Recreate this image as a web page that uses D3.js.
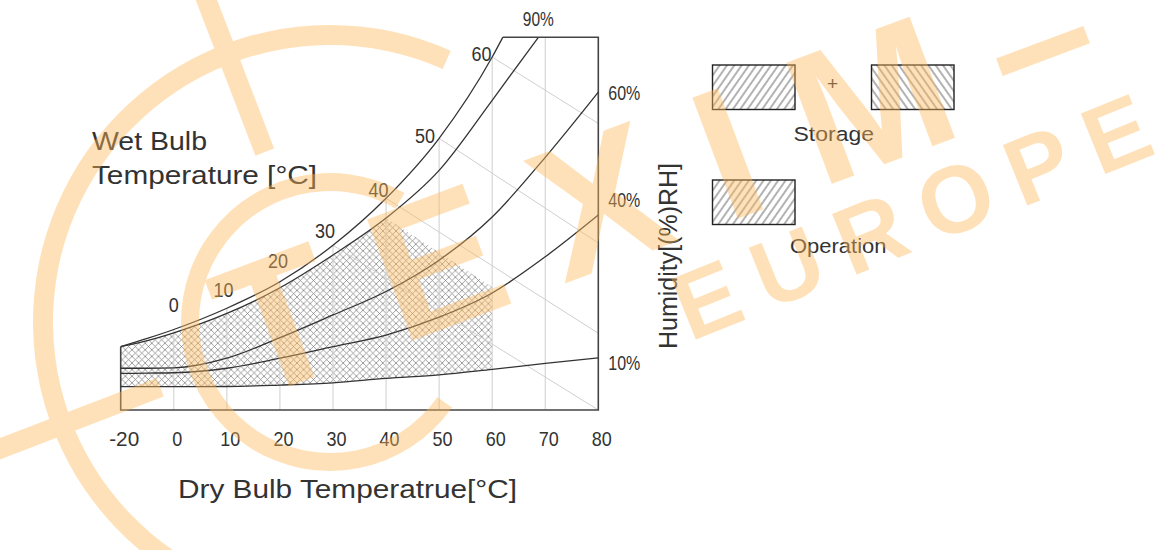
<!DOCTYPE html>
<html>
<head>
<meta charset="utf-8">
<script src="https://cdn.jsdelivr.net/npm/d3@7/dist/d3.min.js"></script>
<style>
  body { margin: 0; background: #fff; }
  svg { display: block; }
  text { font-family: "Liberation Sans", Arial, sans-serif; fill: #333; }
  .wm, .wm text { fill: rgb(255,186,90); }
</style>
</head>
<body>
<svg id="chart" width="1155" height="550"></svg>
<script>
// dry bulb ticks (-20..0 takes a single step on this chart)
const tempTicks = [-20, 0, 10, 20, 30, 40, 50, 60, 70, 80];
const gridTemps = [0, 10, 20, 30, 40, 50, 60, 70];

// curves as [dry bulb temp, humidity height 0..100]
const satCurve = [[-20, 17.0], [-10, 19.2], [0, 21.6], [10, 27.3], [20, 34.4], [30, 44.2], [40, 56.8], [50, 72.9], [60, 94.7], [62, 100]];
const rh90 = [[-20, 17.0], [-10, 18.6], [0, 20.7], [10, 25.9], [20, 32.8], [30, 41.6], [40, 51.5], [50, 64.3], [60, 83.1], [68.7, 100]];
const rh60 = [[-20, 11.2], [-10, 11.2], [0, 11.3], [10, 13.9], [20, 19.4], [30, 25.5], [40, 31.8], [50, 40.2], [60, 51.8], [70, 67.8], [80, 85.3]];
const rh40 = [[-20, 9.8], [-10, 9.9], [0, 10.0], [10, 11.2], [20, 13.9], [30, 17.0], [40, 20.1], [50, 24.9], [60, 31.4], [70, 41.1], [80, 52.3]];
const rh10 = [[-20, 6.25], [-10, 6.25], [0, 6.25], [10, 6.3], [20, 6.7], [30, 7.3], [40, 8.5], [50, 9.4], [60, 10.9], [70, 12.5], [80, 14.0]];

// wet bulb labels sit on the saturation curve
const wetBulbTemps = [0, 10, 20, 30, 40, 50, 60];
// gray wet bulb lines: start on saturation, end at 80 C
const wbLineTemps = [30, 40, 50, 60];
const wbLineEnd80 = [0, 20.6, 44.8, 76.9];

// operation area: 10..90 %RH, up to 60 C, cut by a wet bulb limit
const opMaxTemp = 60;
const opWetBulbLimit = [[40, 51.5], [60, 33.0]];

const rhRightLabels = ["60%", "40%", "10%"];

// layout nudges for labels (px)
const wbLabelNudge = [[0, -17.5], [-3.4, -11.3], [-1.9, -13.8], [-8, -7.3], [-7.6, -1.3], [-14.2, 4.7], [-10.7, 4]];
const rhLabelNudge = [8, -8, 12];

const svg = d3.select("#chart");

const x = d3.scaleLinear().domain([-20, 0, 80]).range([120.7, 173.8, 598.3]);
const y = d3.scaleLinear().domain([0, 100]).range([410, 37.3]);

const line = d3.line().x(d => x(d[0])).y(d => y(d[1])).curve(d3.curveMonotoneX);
const straight = d3.line().x(d => x(d[0])).y(d => y(d[1]));
const satAt = t => (satCurve.find(d => d[0] === t) || [t, 100])[1];

// patterns
const defs = svg.append("defs");
defs.append("pattern")
    .attr("id", "xhatch")
    .attr("width", 6.6).attr("height", 6.6)
    .attr("patternUnits", "userSpaceOnUse")
  .append("path")
    .attr("d", "M-1,-1L7.6,7.6M7.6,-1L-1,7.6")
    .attr("stroke", "#808080").attr("stroke-width", 0.75);

function slashPattern(id, angle) {
    defs.append("pattern")
        .attr("id", id)
        .attr("width", 6).attr("height", 10)
        .attr("patternUnits", "userSpaceOnUse")
        .attr("patternTransform", `rotate(${angle})`)
      .append("line")
        .attr("x1", 3).attr("x2", 3).attr("y1", -1).attr("y2", 11)
        .attr("stroke", "#555").attr("stroke-width", 0.9);
}
slashPattern("fwd", 35);
slashPattern("back", -35);

// operation / storage area
const areaTop = line(rh90.filter(d => d[0] <= opWetBulbLimit[0][0]));
const lower = rh10.filter(d => d[0] <= opMaxTemp).reverse();
const areaBottom = line(lower).replace(/^M/, "L");
const corner = [opWetBulbLimit[1], [opMaxTemp, lower[0][1]]];
svg.append("path")
    .attr("d", areaTop + straight(corner).replace(/^M/, "L") + areaBottom + "Z")
    .attr("fill", "url(#xhatch)");

// vertical grid lines
svg.append("g").selectAll("line")
    .data(gridTemps)
    .join("line")
    .attr("x1", d => x(d)).attr("x2", d => x(d))
    .attr("y1", y(0)).attr("y2", d => y(satAt(d)))
    .attr("stroke", "#cfcfcf").attr("stroke-width", 1);

// wet bulb lines
svg.append("g").selectAll("line")
    .data(wbLineTemps)
    .join("line")
    .attr("x1", d => x(d)).attr("y1", d => y(satAt(d)))
    .attr("x2", x(80)).attr("y2", (d, i) => y(wbLineEnd80[i]))
    .attr("stroke", "#cfcfcf").attr("stroke-width", 1);

// frame
svg.append("path")
    .attr("d", straight([[-20, satCurve[0][1]], [-20, 0], [80, 0], [80, 100], [satCurve[satCurve.length - 1][0], 100]]))
    .attr("fill", "none").attr("stroke", "#444").attr("stroke-width", 1.6);

// humidity curves
svg.append("g").selectAll("path")
    .data([satCurve, rh90, rh60, rh40, rh10])
    .join("path")
    .attr("d", line)
    .attr("fill", "none").attr("stroke", "#333").attr("stroke-width", 1.3);

// x axis labels
const xAxis = d3.axisBottom(x).tickValues(tempTicks).tickSize(0).tickPadding(21).tickFormat(d => String(d));
svg.append("g")
    .attr("transform", `translate(0,${y(0)})`)
    .call(xAxis)
    .call(g => g.select(".domain").remove())
    .attr("font-family", null).attr("font-size", null)
    .selectAll("text")
    .attr("font-size", 21).attr("dx", 3).attr("fill", "#333")
    .attr("textLength", d => 10 * String(d).length)
    .attr("lengthAdjust", "spacingAndGlyphs");

// wet bulb labels
svg.append("g").selectAll("text")
    .data(wetBulbTemps)
    .join("text")
    .attr("x", (d, i) => x(d) + wbLabelNudge[i][0])
    .attr("y", (d, i) => y(satAt(d)) + wbLabelNudge[i][1])
    .attr("text-anchor", "middle")
    .attr("font-size", 20)
    .attr("textLength", d => 10 * String(d).length)
    .attr("lengthAdjust", "spacingAndGlyphs")
    .text(d => d);

// RH labels
const lastRh90 = rh90[rh90.length - 1];
svg.append("text")
    .attr("x", x(lastRh90[0])).attr("y", y(lastRh90[1]) - 11)
    .attr("text-anchor", "middle").attr("font-size", 20)
    .attr("textLength", 31).attr("lengthAdjust", "spacingAndGlyphs")
    .text("90%");
svg.append("g").selectAll("text")
    .data([rh60, rh40, rh10])
    .join("text")
    .attr("x", x(80) + 10)
    .attr("y", (d, i) => y(d[d.length - 1][1]) + rhLabelNudge[i])
    .attr("font-size", 21)
    .attr("textLength", 32).attr("lengthAdjust", "spacingAndGlyphs")
    .text((d, i) => rhRightLabels[i]);

// titles
function label(txt, px, py, size, len, rot) {
    return svg.append("text")
        .attr("transform", `translate(${px},${py})` + (rot ? ` rotate(${rot})` : ""))
        .attr("font-size", size)
        .attr("textLength", len).attr("lengthAdjust", "spacingAndGlyphs")
        .text(txt);
}
label("Wet Bulb", 92, 150, 26, 115);
label("Temperature [°C]", 92, 184, 26, 225);
label("Dry Bulb Temperatrue[°C]", 178, 498, 26, 339);
label("Humidity[(%)RH]", 677, 349, 26, 186, -90);

// legend
const legend = svg.append("g");
[[712.5, 65, "fwd"], [871.5, 65, "back"], [712.5, 180, "fwd"]].forEach(b => {
    legend.append("rect")
        .attr("x", b[0]).attr("y", b[1]).attr("width", 82.5).attr("height", 44.5)
        .attr("fill", `url(#${b[2]})`)
        .attr("stroke", "#222").attr("stroke-width", 1.4);
});
legend.append("text").attr("x", 832.5).attr("y", 90).attr("text-anchor", "middle")
    .attr("font-size", 19).text("+");
label("Storage", 793.5, 140.5, 20.5, 80.5);
label("Operation", 790, 252.5, 20.5, 96.5);

// watermark
const wm = svg.append("g").attr("class", "wm").attr("opacity", 0.42);
const cx = 330, cy = 322;
const deg = Math.PI / 180;
wm.append("path")
    .attr("transform", `translate(${cx},${cy})`)
    .attr("d", d3.arc()({innerRadius: 277, outerRadius: 297, startAngle: 190 * deg, endAngle: 384 * deg}));
wm.append("path")
    .attr("transform", `translate(${cx},${cy})`)
    .attr("d", d3.arc()({innerRadius: 131, outerRadius: 149, startAngle: 125 * deg, endAngle: 390 * deg}));
[-111, 159].forEach(a => {
    const c = Math.cos(a * deg), s = Math.sin(a * deg);
    wm.append("line")
        .attr("x1", cx + 182 * c).attr("y1", cy + 182 * s)
        .attr("x2", cx + 380 * c).attr("y2", cy + 380 * s)
        .attr("stroke", "rgb(255,186,90)").attr("stroke-width", 20);
});
wm.append("text")
    .attr("transform", "translate(248,402) rotate(-20.5)")
    .attr("font-family", "DejaVu Sans").attr("font-weight", "bold").attr("font-size", 188)
    .attr("textLength", 920).attr("lengthAdjust", "spacing")
    .text("TEXIM–");
wm.append("text")
    .attr("transform", "translate(690,342) rotate(-22)")
    .attr("font-family", "DejaVu Sans").attr("font-weight", "bold").attr("font-size", 95)
    .attr("textLength", 505).attr("lengthAdjust", "spacing")
    .text("EUROPE");
</script>
</body>
</html>
